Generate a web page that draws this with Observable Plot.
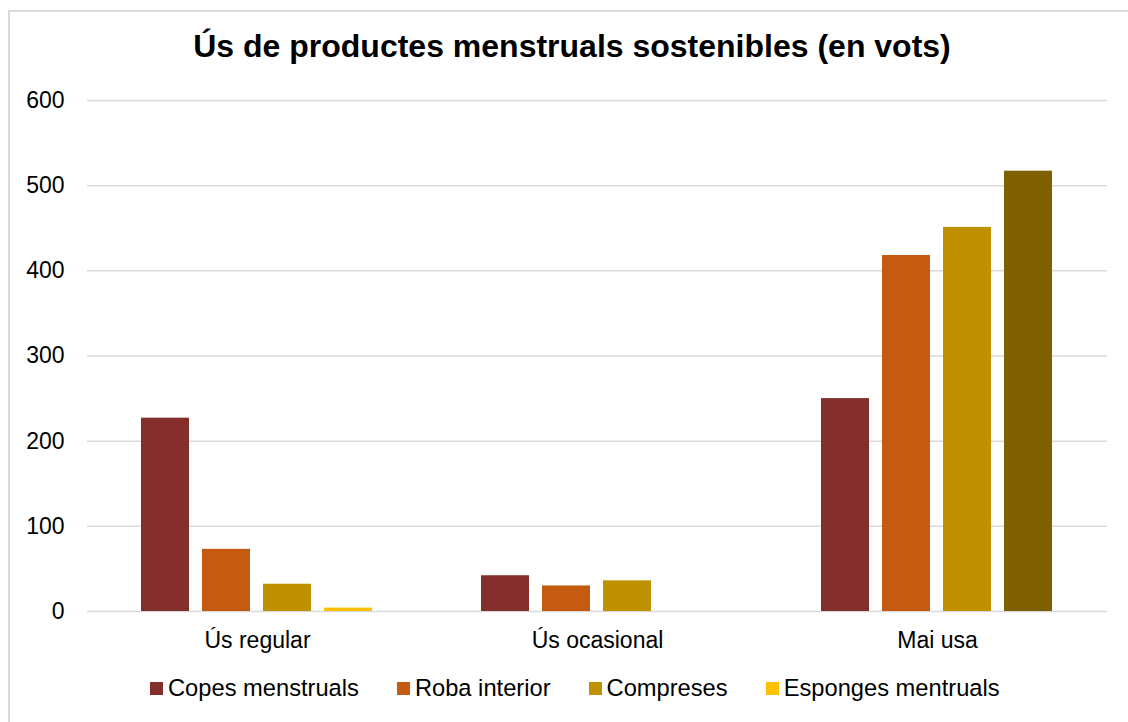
<!DOCTYPE html>
<html>
<head>
<meta charset="utf-8">
<script src="https://cdn.jsdelivr.net/npm/d3@7"></script>
<script src="https://cdn.jsdelivr.net/npm/@observablehq/plot@0.6"></script>
<style>
  html, body { margin: 0; padding: 0; background: #fff; }
  body { width: 1128px; height: 722px; position: relative; overflow: hidden; font-family: "Liberation Sans", Arial, sans-serif; }
  #frame { position: absolute; left: 8px; top: 10px; width: 1140px; height: 730px; border: 2px solid #d9d9d9; box-sizing: border-box; }
  #title { position: absolute; left: 0; width: 1144px; top: 28px; text-align: center; font-weight: bold; font-size: 32px; color: #000; }
  #chart { position: absolute; left: 0; top: 0; }
  #legend { position: absolute; left: 150px; top: 675px; display: flex; gap: 38px; font-size: 23.7px; color: #000; white-space: nowrap; }
  .item { display: flex; align-items: center; }
  .sw { width: 13px; height: 13px; margin-right: 5px; display: inline-block; }
</style>
</head>
<body>
<div id="frame"></div>
<div id="title">Ús de productes menstruals sostenibles (en vots)</div>
<div id="chart"></div>
<div id="legend"></div>
<script>
const categories = ["Ús regular", "Ús ocasional", "Mai usa"];
const series = ["Copes menstruals", "Roba interior", "Compreses", "Esponges mentruals"];
const copes = [227, 42, 250];
const roba = [73, 30, 418];
const compreses = [32, 36, 451];
const esponges = [4, 0, 517];
const colors = ["#842F2C", "#C55A11", "#BF9000", "#FFC000"];
const overrideColor = "#7F6000"; // 4th bar of "Mai usa" in the original
const yTicks = [0, 100, 200, 300, 400, 500, 600];

const valuesBySeries = [copes, roba, compreses, esponges];
const table = [];
categories.forEach((c, ci) => {
  series.forEach((s, si) => {
    const fill = (c === "Mai usa" && si === 3) ? overrideColor : colors[si];
    table.push({category: c, series: s, value: valuesBySeries[si][ci], fill});
  });
});

const chart = Plot.plot({
  width: 1128,
  height: 660,
  marginLeft: 86,
  marginRight: 20,
  marginTop: 100,
  marginBottom: 49,
  style: {fontFamily: "Liberation Sans, Arial, sans-serif", fontSize: "23px", color: "#000", background: "transparent"},
  fx: {domain: categories, padding: 0, label: null, axis: "bottom", tickSize: 0, tickPadding: 20},
  x: {domain: series, paddingInner: 0.21, paddingOuter: 0.853, axis: null},
  y: {domain: [0, 600], ticks: yTicks, label: null, axis: null},
  marks: [
    Plot.ruleY(yTicks, {stroke: "#d9d9d9", strokeWidth: 1.5}),
    Plot.barY(table, {fx: "category", x: "series", y: "value", fill: d => d.fill}),
    Plot.axisY({ticks: yTicks, tickSize: 0, tickPadding: 23, fontSize: 23, label: null})
  ]
});
document.getElementById("chart").appendChild(chart);

const legend = document.getElementById("legend");
series.forEach((s, i) => {
  const it = document.createElement("div");
  it.className = "item";
  const sw = document.createElement("span");
  sw.className = "sw";
  sw.style.background = colors[i];
  const t = document.createElement("span");
  t.textContent = s;
  it.appendChild(sw); it.appendChild(t);
  legend.appendChild(it);
});
</script>
</body>
</html>
